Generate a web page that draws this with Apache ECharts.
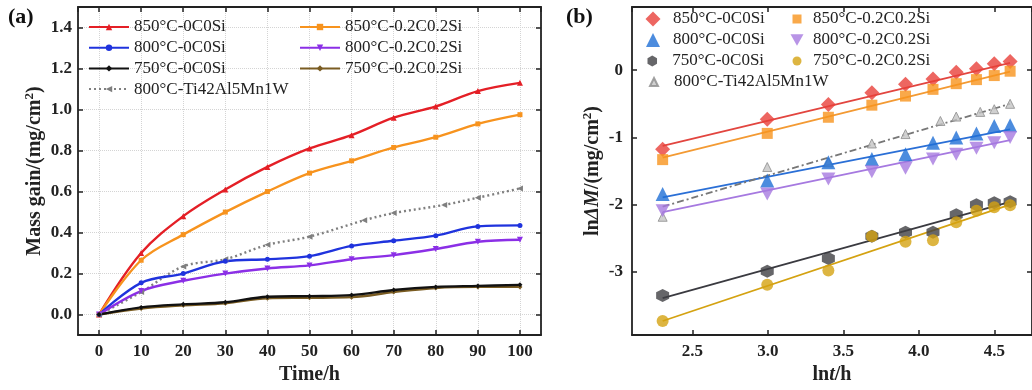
<!DOCTYPE html>
<html>
<head>
<meta charset="utf-8">
<script src="https://cdn.jsdelivr.net/npm/echarts@6/dist/echarts.min.js"></script>
<style>
html,body{margin:0;padding:0;background:#fff;}
#c{width:1032px;height:390px;}
</style>
</head>
<body>
<div id="c"></div>
<script>
// ---------- Panel (a) data ----------
const timeA = [0, 10, 20, 30, 40, 50, 60, 70, 80, 90, 100];
const timeTi = [0, 10, 20, 30, 40, 50, 63, 70, 82, 90, 100];
const a850_0 = [0, 0.30, 0.48, 0.61, 0.72, 0.81, 0.875, 0.96, 1.015, 1.09, 1.13];
const a850_2 = [0, 0.265, 0.39, 0.50, 0.60, 0.69, 0.75, 0.815, 0.865, 0.93, 0.975];
const a800_0 = [0, 0.155, 0.20, 0.26, 0.27, 0.285, 0.335, 0.36, 0.385, 0.43, 0.435];
const a800_2 = [0, 0.115, 0.165, 0.20, 0.225, 0.24, 0.27, 0.29, 0.32, 0.355, 0.365];
const a750_0 = [0, 0.035, 0.05, 0.06, 0.087, 0.09, 0.095, 0.12, 0.135, 0.14, 0.145];
const a750_2 = [0, 0.03, 0.045, 0.055, 0.08, 0.082, 0.085, 0.11, 0.13, 0.135, 0.135];
const aTi = [0, 0.11, 0.235, 0.27, 0.34, 0.38, 0.46, 0.495, 0.535, 0.57, 0.615];

// ---------- Panel (b) data ----------
const lnT = [2.303, 2.996, 3.401, 3.689, 3.912, 4.094, 4.248, 4.382, 4.500, 4.605];
const lnTTi = [2.303, 2.996, 3.401, 3.689, 3.912, 4.143, 4.248, 4.407, 4.500, 4.605];
const b850_0 = [-1.175, -0.73, -0.51, -0.335, -0.21, -0.13, -0.03, 0.02, 0.095, 0.13];
const b850_2 = [-1.33, -0.94, -0.70, -0.52, -0.385, -0.285, -0.20, -0.14, -0.08, -0.015];
const b800_0 = [-1.84, -1.64, -1.37, -1.32, -1.25, -1.08, -1.00, -0.94, -0.83, -0.82];
const b800_2 = [-2.09, -1.84, -1.62, -1.51, -1.46, -1.32, -1.25, -1.16, -1.08, -1.00];
const bTi = [-2.18, -1.44, -1.37, -1.09, -0.95, -0.755, -0.69, -0.62, -0.58, -0.50];
const b750_0 = [-3.35, -2.99, -2.80, -2.47, -2.41, -2.41, -2.15, -2.00, -1.97, -1.955];
const b750_2 = [-3.73, -3.19, -2.98, -2.47, -2.55, -2.53, -2.26, -2.09, -2.04, -2.01];
// linear fit end points (at first and last lnt)
const fitX = [2.303, 4.605];
const fit850_0 = [-1.125, 0.11];
const fit850_2 = [-1.30, -0.02];
const fit800_0 = [-1.89, -0.88];
const fit800_2 = [-2.11, -1.04];
const fitTi = [-2.03, -0.50];
const fit750_0 = [-3.39, -1.96];
const fit750_2 = [-3.73, -2.00];

// ---------- tick settings ----------
const aXTicks = {min: -5, max: 105, step: 10};
const aYTicks = {min: -0.1, max: 1.5, step: 0.2};
const bXTicks = {min: 2.1, max: 4.75, step: 0.5};
const bYTicks = {min: -3.94, max: 0.94, step: 1};

const names = ['850°C-0C0Si', '850°C-0.2C0.2Si', '800°C-0C0Si', '800°C-0.2C0.2Si',
               '750°C-0C0Si', '750°C-0.2C0.2Si', '800°C-Ti42Al5Mn1W'];

const FF = '"Liberation Serif","Times New Roman",serif';
const zip = (xs, ys) => xs.map((x, i) => [x, ys[i]]);
const onStep = (v, s) => Math.abs(v / s - Math.round(v / s)) < 1e-6;

const downTri = 'path://M0,0 L10,0 L5,8.66 Z';
const leftTri = 'path://M0,5 L8.66,0 L8.66,10 Z';
const hexagon = 'path://M5,0 L9.33,2.5 L9.33,7.5 L5,10 L0.67,7.5 L0.67,2.5 Z';

function baseAxis(t, grid, pos, primary, fmt) {
  return {
    type: 'value', gridIndex: grid, position: pos,
    min: t.min, max: t.max, splitNumber: Math.round((t.max - t.min) / t.step),
    minInterval: t.step, maxInterval: t.step,
    axisLine: {show: true, onZero: false, lineStyle: {color: '#222', width: 1.8}},
    axisTick: {show: true, inside: true, length: 5, lineStyle: {color: '#222', width: 1.5}},
    axisLabel: primary ? {
      show: true, showMinLabel: false, showMaxLabel: false,
      fontFamily: FF, fontWeight: 'bold', fontSize: 17, color: '#222', margin: 7,
      formatter: v => onStep(v, t.step) ? fmt(v) : ''
    } : {show: false},
    splitLine: {show: false}
  };
}

const f1 = v => v.toFixed(1);
const f0 = v => String(Math.round(v));

const xA = baseAxis(aXTicks, 0, 'bottom', true, f0);
xA.axisLabel.margin = 8;
xA.splitLine = {show: true, lineStyle: {color: '#d4d4d4', type: 'dotted', width: 1}};
xA.name = 'Time/h'; xA.nameLocation = 'middle'; xA.nameGap = 27;
xA.nameTextStyle = {fontFamily: FF, fontWeight: 'bold', fontSize: 20, color: '#222'};
const xA2 = baseAxis(aXTicks, 0, 'top', false, f0);

const yA = baseAxis(aYTicks, 0, 'left', true, f1);
yA.axisLabel.margin = 6;
yA.splitLine = {show: true, lineStyle: {color: '#d4d4d4', type: 'dotted', width: 1}};
yA.name = 'Mass gain/(mg/cm{s|2})'; yA.nameLocation = 'middle'; yA.nameGap = 30;
yA.nameTextStyle = {fontFamily: FF, fontWeight: 'bold', fontSize: 20, color: '#222', lineHeight: 24,
  rich: {s: {fontFamily: FF, fontWeight: 'bold', fontSize: 13, color: '#222', verticalAlign: 'top', lineHeight: 13}}};
const yA2 = baseAxis(aYTicks, 0, 'right', false, f1);

const xB = baseAxis(bXTicks, 1, 'bottom', true, f1);
xB.axisLabel.margin = 8;
xB.name = 'ln{i|t}/h'; xB.nameLocation = 'middle'; xB.nameGap = 27;
xB.nameTextStyle = {fontFamily: FF, fontWeight: 'bold', fontSize: 20, color: '#222',
  rich: {i: {fontFamily: FF, fontWeight: 'bold', fontStyle: 'italic', fontSize: 20, color: '#222'}}};
const xB2 = baseAxis(bXTicks, 1, 'top', false, f1);

const yB = baseAxis(bYTicks, 1, 'left', true, f0);
yB.axisLabel.margin = 9;
yB.name = 'ln{i|ΔM}/(mg/cm{s|2})'; yB.nameLocation = 'middle'; yB.nameGap = 27;
yB.nameTextStyle = {fontFamily: FF, fontWeight: 'bold', fontSize: 20, color: '#222', lineHeight: 24,
  rich: {
    i: {fontFamily: FF, fontWeight: 'bold', fontStyle: 'italic', fontSize: 20, color: '#222', lineHeight: 24},
    s: {fontFamily: FF, fontWeight: 'bold', fontSize: 13, color: '#222', verticalAlign: 'top', lineHeight: 13}}};
const yB2 = baseAxis(bYTicks, 1, 'right', false, f0);

function lineSeries(name, xs, ys, color, symbol, size, dotted) {
  return {
    type: 'line', name: name, xAxisIndex: 0, yAxisIndex: 0,
    data: zip(xs, ys), smooth: 0.35, symbol: symbol, symbolSize: size, showSymbol: true,
    lineStyle: {color: color, width: 2.4, type: dotted ? [2, 3] : 'solid'},
    itemStyle: {color: color},
    z: 3
  };
}
function scatterSeries(name, xs, ys, color, symbol, size, border) {
  return {
    type: 'scatter', name: 'b:' + name, xAxisIndex: 1, yAxisIndex: 1,
    data: zip(xs, ys), symbol: symbol, symbolSize: size,
    itemStyle: border ? {color: color, borderColor: border, borderWidth: 1} : {color: color},
    z: 4
  };
}
function fitSeries(ys, color, type) {
  return {
    type: 'line', xAxisIndex: 1, yAxisIndex: 1, data: zip(fitX, ys),
    symbol: 'none', silent: true,
    lineStyle: {color: color, width: 1.8, type: type || 'solid'}, z: 2
  };
}

const cA = {r: '#e41f26', o: '#f7931e', b: '#1f33dd', p: '#8b2fe6', k: '#111111', br: '#7a5c22', g: '#7f7f7f'};
const cB = {r: '#e8403a', o: '#f7941d', b: '#1f6fd6', p: '#a679e0', k: '#404044', y: '#d4a211', g: '#c4c4c4'};

const series = [
  lineSeries(names[0], timeA, a850_0, cA.r, 'triangle', 6),
  lineSeries(names[1], timeA, a850_2, cA.o, 'rect', 5),
  lineSeries(names[6], timeTi, aTi, cA.g, leftTri, 6, true),
  lineSeries(names[2], timeA, a800_0, cA.b, 'circle', 5),
  lineSeries(names[3], timeA, a800_2, cA.p, downTri, 6),
  lineSeries(names[5], timeA, a750_2, cA.br, 'diamond', 5),
  lineSeries(names[4], timeA, a750_0, cA.k, 'diamond', 5),

  fitSeries(fit850_0, '#e2453f'),
  fitSeries(fit850_2, '#f39a33'),
  fitSeries(fit800_0, '#2a6fd6'),
  fitSeries(fit800_2, '#a679e0'),
  fitSeries(fitTi, '#777777', [7, 3, 2, 3]),
  fitSeries(fit750_0, '#3a3a40'),
  fitSeries(fit750_2, '#d4a211'),

  scatterSeries(names[6], lnTTi, bTi, cB.g, 'triangle', 9, '#8c8c8c'),
  scatterSeries(names[0], lnT, b850_0, cB.r, 'diamond', 15),
  scatterSeries(names[1], lnT, b850_2, cB.o, 'rect', 11),
  scatterSeries(names[2], lnT, b800_0, cB.b, 'triangle', 14),
  scatterSeries(names[3], lnT, b800_2, cB.p, downTri, [14, 13]),
  scatterSeries(names[4], lnT, b750_0, cB.k, hexagon, 13),
  scatterSeries(names[5], lnT, b750_2, cB.y, 'circle', 12)
];

const legTxt = {fontFamily: FF, fontSize: 17, color: '#222'};
const legends = [
  {data: [names[0], names[2], names[4], names[6]], left: 88, top: 18.5, orient: 'vertical', padding: 0,
   itemWidth: 40, itemHeight: 8, itemGap: 3.7, textStyle: legTxt, selectedMode: false},
  {data: [names[1], names[3], names[5]], left: 299, top: 18.5, orient: 'vertical', padding: 0,
   itemWidth: 40, itemHeight: 8, itemGap: 3.7, textStyle: legTxt, selectedMode: false}
];
// panel (b) legend: one per entry (different marker sizes)
// [name, icon centre x, row centre y, icon size, text start x]
const bLeg = [
  [names[0], 653, 19, 15, 673], [names[2], 653, 40, 14, 673], [names[4], 653, 61, 11, 673], [names[6], 653, 82, 8, 673],
  [names[1], 797, 19, 9, 813], [names[3], 797, 40, 13, 813], [names[5], 797, 61, 9, 813]
];
bLeg.forEach(e => {
  const left = e[1] - e[3] / 2;
  const pad = e[4] - (left + e[3] + 5);
  legends.push({
    data: ['b:' + e[0]], left: left, top: e[2] - 8.5, itemWidth: e[3], itemHeight: e[3], padding: 0,
    formatter: n => '{t|' + n.replace('b:', '') + '}',
    textStyle: Object.assign({}, legTxt, {rich: {t: {fontFamily: FF, fontSize: 17, color: '#222', padding: [0, 0, 0, pad]}}}),
    selectedMode: false
  });
});

const chart = echarts.init(document.getElementById('c'), null, {renderer: 'canvas'});
chart.setOption({
  animation: false,
  backgroundColor: '#ffffff',
  grid: [
    {left: 78, top: 7, width: 463, height: 331, containLabel: false},
    {left: 632, top: 7, width: 403, height: 330, containLabel: false}
  ],
  xAxis: [xA, xA2, xB, xB2].map((a, i) => Object.assign(a, {gridIndex: i < 2 ? 0 : 1})),
  yAxis: [yA, yA2, yB, yB2].map((a, i) => Object.assign(a, {gridIndex: i < 2 ? 0 : 1})),
  legend: legends,
  series: series.map(s => {
    if (s.xAxisIndex === 1) { s.xAxisIndex = 2; s.yAxisIndex = 2; }
    return s;
  }),
  graphic: [
    {type: 'text', left: 8, top: 6, style: {text: '(a)', font: 'bold 22px ' + FF, fill: '#111'}},
    {type: 'text', left: 566, top: 6, style: {text: '(b)', font: 'bold 22px ' + FF, fill: '#111'}}
  ]
});
</script>
</body>
</html>
